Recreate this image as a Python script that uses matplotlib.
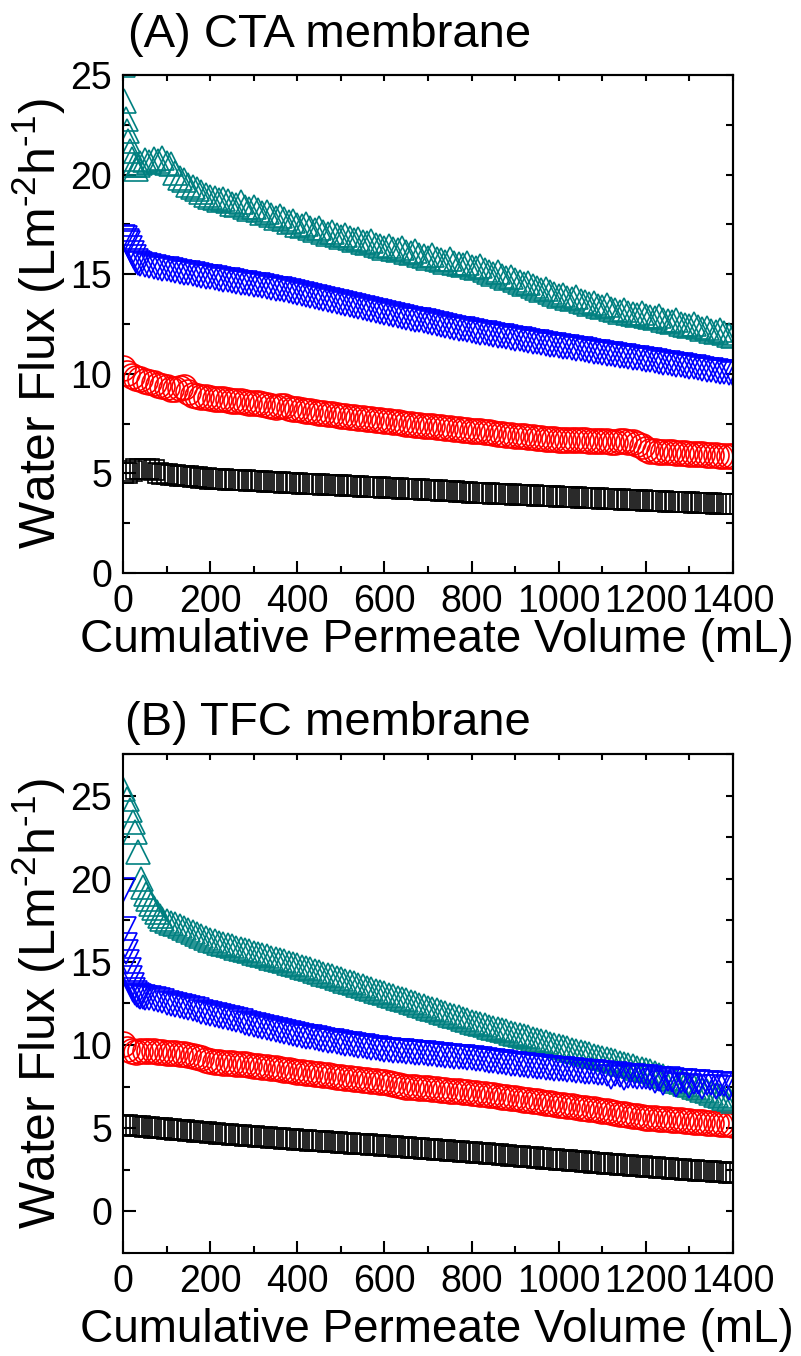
import matplotlib.pyplot as plt
from matplotlib.ticker import MultipleLocator

plt.rcParams['font.family'] = ['Liberation Sans', 'DejaVu Sans']
plt.rcParams['mathtext.default'] = 'regular'

# permeate volume sampled every 10 mL
vol_grid = list(range(0, 1401, 10))

# ---- (A) CTA membrane ----
a_black_x = vol_grid
a_black_y = [5.00, 5.03, 5.14, 5.20, 5.22, 5.21, 5.20, 5.18, 5.02, 4.97, 4.95,
             4.93, 4.92, 4.89, 4.87, 4.85, 4.82, 4.80, 4.77, 4.75, 4.73,
             4.72, 4.71, 4.70, 4.69, 4.68, 4.67, 4.66, 4.66, 4.64, 4.63, 4.62, 4.61, 4.59, 4.58, 4.57, 4.56, 4.54, 4.53, 4.52, 4.50,
             4.49, 4.48, 4.47, 4.47, 4.45, 4.44, 4.43, 4.42, 4.41, 4.40, 4.39, 4.38, 4.37, 4.35, 4.34, 4.33, 4.32, 4.31, 4.30, 4.29,
             4.28, 4.27, 4.26, 4.24, 4.23, 4.22, 4.21, 4.20, 4.18, 4.17, 4.16, 4.15, 4.13, 4.12, 4.11, 4.10, 4.08, 4.07, 4.06, 4.04,
             4.03, 4.02, 4.01, 4.00, 3.99, 3.98, 3.97, 3.96, 3.95, 3.94, 3.93, 3.92, 3.91, 3.90, 3.89, 3.88, 3.87, 3.86, 3.85, 3.84,
             3.83, 3.82, 3.81, 3.80, 3.79, 3.78, 3.77, 3.76, 3.75, 3.74, 3.73, 3.72, 3.71, 3.70, 3.69, 3.68, 3.67, 3.66, 3.65, 3.64,
             3.63, 3.62, 3.61, 3.60, 3.59, 3.58, 3.57, 3.56, 3.56, 3.55, 3.54, 3.53, 3.52, 3.51, 3.50, 3.49, 3.48, 3.47, 3.47, 3.46]

a_red_x = vol_grid
a_red_y = [10.30, 10.05, 9.88, 9.80, 9.72, 9.63, 9.58, 9.52, 9.44, 9.38, 9.32,
           9.26, 9.22, 9.30, 9.32, 9.10, 8.92, 8.88, 8.86, 8.83, 8.79,
           8.76, 8.74, 8.73, 8.70, 8.66, 8.63, 8.62, 8.60, 8.55, 8.52, 8.55, 8.50, 8.44, 8.38, 8.33, 8.40, 8.38, 8.30, 8.25, 8.21,
           8.18, 8.15, 8.12, 8.08, 8.05, 8.02, 7.98, 7.96, 7.93, 7.90, 7.88, 7.85, 7.82, 7.78, 7.80, 7.75, 7.72, 7.69, 7.66, 7.63,
           7.61, 7.60, 7.56, 7.53, 7.50, 7.48, 7.45, 7.42, 7.40, 7.38, 7.36, 7.34, 7.31, 7.29, 7.27, 7.25, 7.22, 7.20, 7.18, 7.15,
           7.13, 7.12, 7.10, 7.07, 7.03, 7.00, 6.98, 6.95, 6.93, 6.90, 6.88, 6.86, 6.84, 6.82, 6.80, 6.78, 6.75, 6.73, 6.71, 6.70,
           6.69, 6.68, 6.68, 6.67, 6.66, 6.66, 6.65, 6.64, 6.63, 6.62, 6.61, 6.60, 6.60, 6.62, 6.63, 6.60, 6.57, 6.50, 6.38, 6.25,
           6.15, 6.12, 6.10, 6.09, 6.07, 6.06, 6.04, 6.03, 6.02, 6.00, 5.99, 5.98, 5.96, 5.95, 5.93, 5.92, 5.90, 5.89, 5.87, 5.85]

a_blue_x = [0, 4, 8, 12, 16, 20, 25, 30, 35] + list(range(40, 1401, 10))
a_blue_y = [16.85, 16.80, 16.65, 16.55, 16.30, 16.05, 15.85, 15.65, 15.55,
            15.50, 15.45, 15.40, 15.36, 15.32, 15.28, 15.24,
            15.20, 15.16, 15.12, 15.08, 15.04, 15.00, 14.96, 14.92, 14.88, 14.84,
            14.80, 14.76, 14.73, 14.70, 14.66, 14.62, 14.58, 14.55, 14.52, 14.48, 14.44, 14.40, 14.36, 14.32, 14.28, 14.24, 14.20, 14.16, 14.12, 14.06,
            13.99, 13.94, 13.89, 13.84, 13.79, 13.74, 13.69, 13.64, 13.59, 13.54, 13.49, 13.44, 13.39, 13.34, 13.29, 13.24, 13.19, 13.14, 13.09, 13.04,
            12.99, 12.95, 12.90, 12.86, 12.81, 12.77, 12.72, 12.68, 12.63, 12.59, 12.54, 12.50, 12.45, 12.41, 12.36, 12.32, 12.27, 12.23, 12.18, 12.14,
            12.10, 12.06, 12.03, 11.99, 11.95, 11.92, 11.88, 11.84, 11.80, 11.77, 11.73, 11.69, 11.66, 11.62, 11.58, 11.55, 11.51, 11.47, 11.44, 11.40,
            11.37, 11.33, 11.30, 11.26, 11.23, 11.19, 11.16, 11.12, 11.09, 11.05, 11.02, 10.98, 10.95, 10.91, 10.88, 10.84, 10.81, 10.77, 10.74, 10.70,
            10.67, 10.63, 10.60, 10.56, 10.53, 10.49, 10.46, 10.42, 10.39, 10.35, 10.32, 10.28, 10.25, 10.21, 10.18, 10.14, 10.11, 10.07, 10.04, 10.00]

a_teal_x = [0, 3, 6, 9, 12, 16, 20, 25, 30, 35] + list(range(40, 1401, 10))
a_teal_y = [25.5, 23.7, 22.8, 22.2, 21.7, 21.2, 20.8, 20.5, 20.3, 20.5,
            20.60, 20.75, 20.65, 20.80, 20.70, 20.85, 20.60, 20.55,
            20.10, 19.85, 19.75, 19.50, 19.40, 19.30, 19.15, 19.00, 18.90,
            18.85, 18.70, 18.80, 18.65, 18.50, 18.45, 18.60, 18.35, 18.25, 18.35, 18.20, 18.05, 18.10, 17.95, 17.80, 17.90, 17.75, 17.60, 17.65, 17.45,
            17.40, 17.50, 17.30, 17.20, 17.30, 17.10, 17.00, 17.10, 16.95, 16.85, 16.95, 16.80, 16.70, 16.75, 16.60, 16.55, 16.65, 16.45, 16.40, 16.30,
            16.40, 16.25, 16.20, 16.30, 16.10, 16.05, 16.15, 15.95, 15.90, 15.80, 15.95, 15.75, 15.70, 15.60, 15.75, 15.55, 15.50, 15.45, 15.55, 15.35,
            15.30, 15.40, 15.20, 15.10, 15.00, 15.10, 14.90, 14.80, 14.85, 14.70, 14.60, 14.50, 14.55, 14.40, 14.30, 14.20, 14.25, 14.10, 14.00, 13.90,
            13.95, 13.80, 13.75, 13.85, 13.65, 13.60, 13.50, 13.55, 13.40, 13.35, 13.45, 13.25, 13.20, 13.10, 13.20, 13.05, 13.00, 12.95, 13.05, 12.90,
            12.85, 12.80, 12.90, 12.70, 12.65, 12.60, 12.70, 12.50, 12.45, 12.40, 12.50, 12.35, 12.25, 12.30, 12.15, 12.10, 12.20, 12.05, 11.95, 11.90]

# ---- (B) TFC membrane ----
b_black_x = vol_grid
b_black_y = [5.20, 5.18, 5.15, 5.13, 5.11, 5.08, 5.06, 5.04, 5.01, 4.99, 4.96,
             4.94, 4.92, 4.89, 4.87, 4.85, 4.82, 4.80, 4.78, 4.75, 4.72,
             4.70, 4.68, 4.66, 4.64, 4.62, 4.60, 4.58, 4.56, 4.54, 4.52, 4.50, 4.48, 4.46, 4.44, 4.42, 4.40, 4.38, 4.36, 4.33, 4.30,
             4.28, 4.27, 4.25, 4.23, 4.21, 4.20, 4.18, 4.16, 4.14, 4.13, 4.11, 4.09, 4.07, 4.06, 4.04, 4.02, 4.00, 3.99, 3.97, 3.95,
             3.93, 3.91, 3.89, 3.87, 3.85, 3.83, 3.81, 3.79, 3.77, 3.75, 3.73, 3.71, 3.69, 3.67, 3.65, 3.63, 3.61, 3.59, 3.57, 3.55,
             3.53, 3.51, 3.48, 3.46, 3.44, 3.42, 3.39, 3.37, 3.35, 3.33, 3.30, 3.28, 3.26, 3.24, 3.21, 3.19, 3.17, 3.15, 3.12, 3.10,
             3.08, 3.06, 3.04, 3.02, 3.00, 2.98, 2.95, 2.93, 2.91, 2.89, 2.87, 2.85, 2.83, 2.81, 2.79, 2.77, 2.74, 2.72, 2.70, 2.68,
             2.66, 2.64, 2.62, 2.60, 2.58, 2.56, 2.55, 2.53, 2.51, 2.49, 2.47, 2.45, 2.43, 2.41, 2.40, 2.38, 2.36, 2.34, 2.32, 2.30]

b_red_x = vol_grid
b_red_y = [10.05, 9.75, 9.62, 9.60, 9.62, 9.64, 9.63, 9.62, 9.60, 9.58, 9.55,
           9.52, 9.50, 9.47, 9.45, 9.40, 9.35, 9.30, 9.22, 9.12, 9.05,
           8.98, 8.95, 8.93, 8.92, 8.90, 8.88, 8.86, 8.84, 8.80, 8.75, 8.72, 8.70, 8.66, 8.62, 8.60, 8.56, 8.52, 8.48, 8.44, 8.40,
           8.37, 8.34, 8.30, 8.27, 8.24, 8.20, 8.17, 8.14, 8.10, 8.07, 8.04, 8.01, 7.98, 7.95, 7.92, 7.89, 7.86, 7.83, 7.80, 7.76,
           7.72, 7.66, 7.58, 7.52, 7.50, 7.48, 7.46, 7.44, 7.42, 7.40, 7.37, 7.34, 7.31, 7.29, 7.26, 7.24, 7.21, 7.19, 7.16, 7.14,
           7.11, 7.07, 7.04, 7.00, 6.97, 6.93, 6.90, 6.86, 6.83, 6.79, 6.76, 6.72, 6.68, 6.65, 6.61, 6.57, 6.53, 6.50, 6.46, 6.42,
           6.39, 6.35, 6.31, 6.28, 6.24, 6.20, 6.17, 6.13, 6.09, 6.05, 6.01, 5.97, 5.93, 5.88, 5.84, 5.80, 5.76, 5.71, 5.67, 5.63,
           5.61, 5.59, 5.57, 5.55, 5.53, 5.51, 5.49, 5.47, 5.44, 5.42, 5.40, 5.38, 5.36, 5.34, 5.32, 5.30, 5.28, 5.26, 5.23, 5.20]

b_blue_x = [0, 2, 4, 7, 10, 13, 16, 20, 24, 28, 32, 36, 40, 45] + list(range(50, 1401, 10))
b_blue_y = [19.3, 17.0, 16.0, 15.6, 15.0, 14.5, 14.05, 13.6, 13.3, 13.1, 13.0, 12.95, 12.9, 12.9,
            12.85, 12.80, 12.75, 12.72, 12.65, 12.55, 12.48, 12.42, 12.35, 12.30, 12.22, 12.15, 12.08, 12.00, 11.93, 11.85,
            11.80, 11.73, 11.67, 11.60, 11.55, 11.48, 11.42, 11.35, 11.28, 11.20, 11.15, 11.08, 11.02, 10.95, 10.90, 10.83, 10.78, 10.72, 10.66, 10.60,
            10.55, 10.50, 10.46, 10.40, 10.36, 10.32, 10.27, 10.22, 10.18, 10.13, 10.09, 10.05, 10.00, 9.96, 9.92, 9.88, 9.84, 9.80, 9.75, 9.70,
            9.68, 9.66, 9.64, 9.62, 9.60, 9.57, 9.55, 9.52, 9.50, 9.47, 9.45, 9.42, 9.40, 9.37, 9.34, 9.31, 9.28, 9.25, 9.22, 9.20,
            9.17, 9.13, 9.10, 9.06, 9.02, 8.98, 8.95, 8.92, 8.88, 8.85, 8.82, 8.79, 8.76, 8.73, 8.70, 8.67, 8.64, 8.61, 8.58, 8.55,
            8.53, 8.50, 8.48, 8.45, 8.43, 8.40, 8.38, 8.35, 8.33, 8.30, 8.28, 8.10, 8.23, 8.20, 8.00, 8.15, 8.13, 8.10, 8.08, 8.05,
            8.03, 7.85, 7.98, 7.70, 7.93, 7.90, 7.60, 7.85, 7.83, 7.55, 7.78, 7.76, 7.50, 7.72, 7.70, 7.45, 7.66, 7.64, 7.40, 7.60]

b_teal_x = [0, 8, 15, 22, 28, 34, 41, 46, 52, 58, 64, 70, 77, 84] + list(range(90, 1401, 10))
b_teal_y = [25.4, 24.8, 24.1, 23.4, 22.8, 21.6, 20.0, 19.5, 19.1, 18.8, 18.5, 18.25, 18.0, 17.75,
            17.55, 17.45, 17.35, 17.25, 17.15, 17.02, 16.90, 16.78, 16.66, 16.54, 16.42, 16.30,
            16.23, 16.15, 16.08, 16.00, 15.93, 15.85, 15.78, 15.70, 15.63, 15.55, 15.48, 15.40, 15.33, 15.25, 15.18, 15.10, 15.03, 14.95, 14.88, 14.80,
            14.72, 14.63, 14.55, 14.46, 14.38, 14.29, 14.21, 14.12, 14.04, 13.95, 13.87, 13.78, 13.70, 13.61, 13.53, 13.44, 13.36, 13.27, 13.19, 13.10,
            13.02, 12.93, 12.85, 12.76, 12.68, 12.59, 12.51, 12.42, 12.34, 12.25, 12.17, 12.08, 12.00, 11.91, 11.83, 11.74, 11.66, 11.57, 11.49, 11.40,
            11.33, 11.25, 11.18, 11.11, 11.04, 10.96, 10.89, 10.82, 10.75, 10.67, 10.60, 10.53, 10.46, 10.38, 10.31, 10.24, 10.17, 10.09, 10.02, 9.95,
            9.88, 9.80, 9.73, 9.66, 9.59, 9.51, 9.44, 9.37, 9.30, 9.22, 9.15, 9.08, 9.01, 8.93, 8.86, 8.79, 8.72, 8.64, 8.57, 8.50,
            8.41, 8.32, 8.22, 8.13, 8.04, 7.95, 7.85, 7.76, 7.67, 7.58, 7.48, 7.39, 7.30, 7.21, 7.11, 7.02, 6.93, 6.84, 6.74, 6.65]

titles = ['(A) CTA membrane', '(B) TFC membrane']
ylabel = 'Water Flux (Lm$^{\u20102}$h$^{\u20101}$)'
xlabel = 'Cumulative Permeate Volume (mL)'

fig = plt.figure(figsize=(8.01, 13.56), dpi=100)
axA = fig.add_axes([0.1536, 0.5774, 0.7615, 0.3673])
axB = fig.add_axes([0.1536, 0.0760, 0.7615, 0.3680])


def draw(ax, blk, red, blu, tea):
    ax.plot(blk[0], blk[1], ls='none', marker='s', ms=14, mfc='none', mec='black', mew=1.2)
    ax.plot(red[0], red[1], ls='none', marker='o', ms=18, mfc='none', mec='#ff0000', mew=1.2)
    ax.plot(tea[0], tea[1], ls='none', marker='^', ms=17, mfc='none', mec='#008080', mew=1.2)
    ax.plot(blu[0], blu[1], ls='none', marker='v', ms=17, mfc='none', mec='#0000ff', mew=1.2)


draw(axA, (a_black_x, a_black_y), (a_red_x, a_red_y), (a_blue_x, a_blue_y), (a_teal_x, a_teal_y))
draw(axB, (b_black_x, b_black_y), (b_red_x, b_red_y), (b_blue_x, b_blue_y), (b_teal_x, b_teal_y))


def style(ax, ylim, xlab_y):
    ax.set_xlim(0, 1400)
    ax.set_ylim(*ylim)
    ax.xaxis.set_major_locator(MultipleLocator(200))
    ax.xaxis.set_minor_locator(MultipleLocator(100))
    ax.yaxis.set_major_locator(MultipleLocator(5))
    ax.yaxis.set_minor_locator(MultipleLocator(2.5))
    for s in ax.spines.values():
        s.set_linewidth(1.5)
    ax.tick_params(which='major', direction='in', length=9, width=1.5, labelsize=27, pad=8)
    ax.tick_params(which='minor', direction='in', length=5, width=1.5)
    # short ticks on the opposite sides
    top = ax.secondary_xaxis('top')
    top.xaxis.set_major_locator(MultipleLocator(100))
    top.tick_params(direction='in', length=4, width=1.5, labeltop=False)
    top.spines['top'].set_linewidth(1.5)
    right = ax.secondary_yaxis('right')
    right.yaxis.set_major_locator(MultipleLocator(2.5))
    right.tick_params(direction='in', length=5, width=1.5, labelright=False)
    right.spines['right'].set_linewidth(1.5)
    ax.set_ylabel(ylabel, fontsize=36)
    ax.yaxis.set_label_coords(-0.09, 0.5)
    ax.set_xlabel(xlabel, fontsize=33)
    ax.xaxis.set_label_coords(0.515, xlab_y)


style(axA, (0, 25), -0.09)
style(axB, (-2.5, 27.5), -0.11)

fig.text(128 / 801, 1 - 47 / 1356, titles[0], fontsize=34, va='baseline', ha='left')
fig.text(125 / 801, 1 - 735 / 1356, titles[1], fontsize=34, va='baseline', ha='left')

fig.savefig('out.png', dpi=100)
